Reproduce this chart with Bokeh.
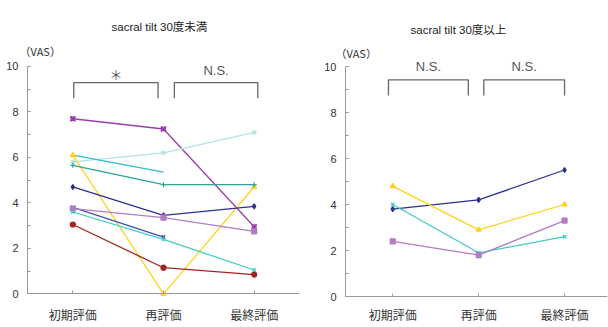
import math
from bokeh.plotting import figure
from bokeh.layouts import row
from bokeh.models import Range1d, FixedTicker, SingleIntervalTicker, Label, Title
from bokeh.embed import file_html
from bokeh.resources import INLINE

nan = math.nan

# --- data -------------------------------------------------------------
categories = ["初期評価", "再評価", "最終評価"]

# sacral tilt under 30 degrees (VAS per patient)
under30_purple = [7.7, 7.25, 2.95]
under30_paleblue = [5.8, 6.2, 7.1]
under30_cyan = [6.1, 5.35, nan]
under30_yellow = [6.1, 0.0, 4.7]
under30_teal = [5.65, 4.8, 4.8]
under30_navy = [4.7, 3.45, 3.85]
under30_blue = [3.8, 2.5, nan]
under30_lavender = [3.75, 3.35, 2.75]
under30_turquoise = [3.6, 2.4, 1.05]
under30_red = [3.05, 1.15, 0.85]

# sacral tilt 30 degrees or more
over30_navy = [3.8, 4.2, 5.5]
over30_yellow = [4.8, 2.9, 4.0]
over30_turquoise = [4.0, 1.9, 2.6]
over30_lavender = [2.4, 1.8, 3.3]

under30_marks = ["＊", "N.S."]
over30_marks = ["N.S.", "N.S."]

# --- styling ----------------------------------------------------------
LATIN = "'Liberation Sans', 'Noto Sans CJK JP'"
CJK = "'Noto Sans CJK JP'"
AXIS_GREY = "#9a9a9a"
BRACKET = "#666666"

under30_series = [
    (under30_purple, "#9a3fae", "square_pin"),
    (under30_paleblue, "#b5e3e6", "asterisk"),
    (under30_cyan, "#2fb9d2", None),
    (under30_yellow, "#ffd21e", "triangle"),
    (under30_teal, "#2aa597", "cross"),
    (under30_navy, "#2c318f", "diamond"),
    (under30_blue, "#4052b0", "x"),
    (under30_lavender, "#b27cc4", "square"),
    (under30_turquoise, "#44c9c9", "x"),
    (under30_red, "#a32424", "circle"),
]
over30_series = [
    (over30_navy, "#2c318f", "diamond"),
    (over30_yellow, "#ffd21e", "triangle"),
    (over30_turquoise, "#44c9c9", "x"),
    (over30_lavender, "#b27cc4", "square"),
]

xs = [0.5, 1.5, 2.5]
PX_PER_UNIT = 23
HEIGHT = 327


def make_panel(title, series, width, x_start, border_left, frame_top,
               zero_px, brackets, marks, mark_y, vas_standoff, vas_offset,
               title_standoff, title_offset, label_standoff):
    # the plot area runs to the bottom edge; the category axis is pinned at 0
    y_start = -(HEIGHT - zero_px) / PX_PER_UNIT
    y_end = (zero_px - frame_top) / PX_PER_UNIT
    p = figure(width=width, height=HEIGHT,
               x_range=Range1d(x_start, 3), y_range=Range1d(y_start, y_end),
               output_backend="svg", toolbar_location=None,
               min_border_left=border_left, min_border_right=1,
               min_border_top=frame_top, min_border_bottom=0)
    p.outline_line_color = None
    p.grid.visible = False
    p.background_fill_color = "white"
    p.border_fill_color = "white"
    p.title.text = ""

    for vals, color, marker in series:
        p.line(xs, vals, line_color=color, line_width=1.3)
        if marker:
            p.scatter(xs, vals, marker=marker, size=5, line_color=color,
                      fill_color=color, line_width=1.2)

    # significance brackets
    top = brackets["top"]
    leg = brackets["leg"]
    for (a, b), mark in zip(brackets["spans"], marks):
        p.line([a, a, b, b], [leg, top, top, leg], line_color=BRACKET,
               line_width=1.3)
        font = CJK if mark == "＊" else LATIN
        p.add_layout(Label(x=(a + b) / 2, y=mark_y[mark], text=mark,
                           text_align="center", text_baseline="middle",
                           text_font=font, text_font_size="13px",
                           text_color="#555555"))

    # unit label and panel heading, stacked above the plot area
    p.add_layout(Title(text="（VAS）", align="left", offset=vas_offset,
                       standoff=vas_standoff, text_font=CJK,
                       text_font_size="11px", text_font_style="normal",
                       text_color="#333333"), "above")
    p.add_layout(Title(text=title, align="left", offset=title_offset,
                       standoff=title_standoff, text_font=LATIN,
                       text_font_size="11.5px", text_font_style="normal",
                       text_color="#222222"), "above")

    xa = p.xaxis[0]
    xa.fixed_location = 0
    xa.ticker = FixedTicker(ticks=xs, minor_ticks=[])
    xa.major_label_overrides = {x: c for x, c in zip(xs, categories)}
    xa.major_label_text_font = CJK
    xa.major_label_text_font_size = "12px"
    xa.major_label_text_color = "#333333"
    xa.major_label_standoff = label_standoff
    xa.axis_line_color = AXIS_GREY
    xa.major_tick_line_color = AXIS_GREY
    xa.major_tick_in = 3
    xa.major_tick_out = 0

    ya = p.yaxis[0]
    ya.bounds = (0, 10)
    ya.ticker = SingleIntervalTicker(interval=2, num_minor_ticks=2)
    ya.major_label_text_font = LATIN
    ya.major_label_text_font_size = "11px"
    ya.major_label_text_color = "#333333"
    ya.major_label_standoff = 9
    ya.axis_line_color = AXIS_GREY
    ya.major_tick_line_color = AXIS_GREY
    ya.minor_tick_line_color = AXIS_GREY
    ya.major_tick_in = 3
    ya.major_tick_out = 0
    ya.minor_tick_in = 3
    ya.minor_tick_out = 0
    return p


left = make_panel(
    "sacral tilt 30度未満", under30_series, 300, 0.0, 27, 57, 293,
    {"top": 9.29, "leg": 8.6, "spans": [(0.51, 1.44), (1.62, 2.54)]},
    under30_marks, {"＊": 9.65, "N.S.": 9.84},
    vas_standoff=3, vas_offset=-8, title_standoff=14, title_offset=84,
    label_standoff=12)

right = make_panel(
    "sacral tilt 30度以上", over30_series, 308, -0.05, 45, 60, 296,
    {"top": 9.42, "leg": 8.74, "spans": [(0.45, 1.38), (1.56, 2.5)]},
    over30_marks, {"N.S.": 10.0},
    vas_standoff=0, vas_offset=-10, title_standoff=14, title_offset=65,
    label_standoff=9)

layout = row(left, right, spacing=0)
open("out.html", "w").write(file_html(layout, INLINE))
